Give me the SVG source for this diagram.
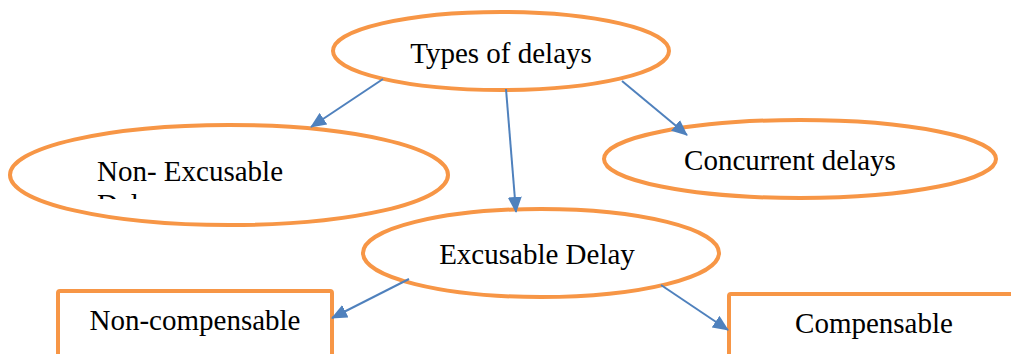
<svg xmlns="http://www.w3.org/2000/svg" width="1011" height="354" viewBox="0 0 1011 354">
  <style>
    .node { fill: #ffffff; stroke: #F79646; stroke-width: 4; }
    .label { font-family: "Liberation Serif", "Times New Roman", serif; font-size: 29px; fill: #000000; }
    .conn { stroke: #4F81BD; stroke-width: 2; fill: none; marker-end: url(#arrow); }
  </style>
  <defs>
    <marker id="arrow" markerUnits="userSpaceOnUse" markerWidth="16" markerHeight="14" refX="15" refY="7" orient="auto">
      <path d="M0,0 L16,7 L0,14 Z" fill="#4F81BD"/>
    </marker>
    <clipPath id="clipNonExc">
      <rect x="90" y="150" width="250" height="49"/>
    </clipPath>
  </defs>
  <rect width="1011" height="354" fill="#ffffff"/>

  <g id="node-types">
    <ellipse class="node" cx="501" cy="51" rx="168" ry="39"/>
    <text class="label" x="501" y="63" text-anchor="middle">Types of delays</text>
  </g>

  <g id="node-nonexcusable">
    <ellipse class="node" cx="229" cy="175" rx="219" ry="50"/>
    <g clip-path="url(#clipNonExc)">
      <text class="label" x="97" y="181">Non- Excusable</text>
      <text class="label" x="97" y="214">Delay</text>
    </g>
  </g>

  <g id="node-concurrent">
    <ellipse class="node" cx="800" cy="159" rx="196" ry="39"/>
    <text class="label" x="790" y="170" text-anchor="middle">Concurrent delays</text>
  </g>

  <g id="node-excusable">
    <ellipse class="node" cx="541" cy="253" rx="178" ry="44"/>
    <text class="label" x="537" y="264" text-anchor="middle">Excusable Delay</text>
  </g>

  <g id="node-noncompensable">
    <rect class="node" x="58" y="291" width="274" height="80" rx="2"/>
    <text class="label" x="195" y="330" text-anchor="middle">Non-compensable</text>
  </g>

  <g id="node-compensable">
    <rect class="node" x="729" y="294" width="300" height="80" rx="2"/>
    <text class="label" x="874" y="333" text-anchor="middle">Compensable</text>
  </g>

  <g id="connectors">
    <line class="conn" x1="383" y1="79" x2="311" y2="127"/>
    <line class="conn" x1="506" y1="89" x2="516" y2="212"/>
    <line class="conn" x1="622" y1="81" x2="687" y2="135"/>
    <line class="conn" x1="409" y1="279" x2="332" y2="318"/>
    <line class="conn" x1="661" y1="285" x2="728" y2="330"/>
  </g>
</svg>
